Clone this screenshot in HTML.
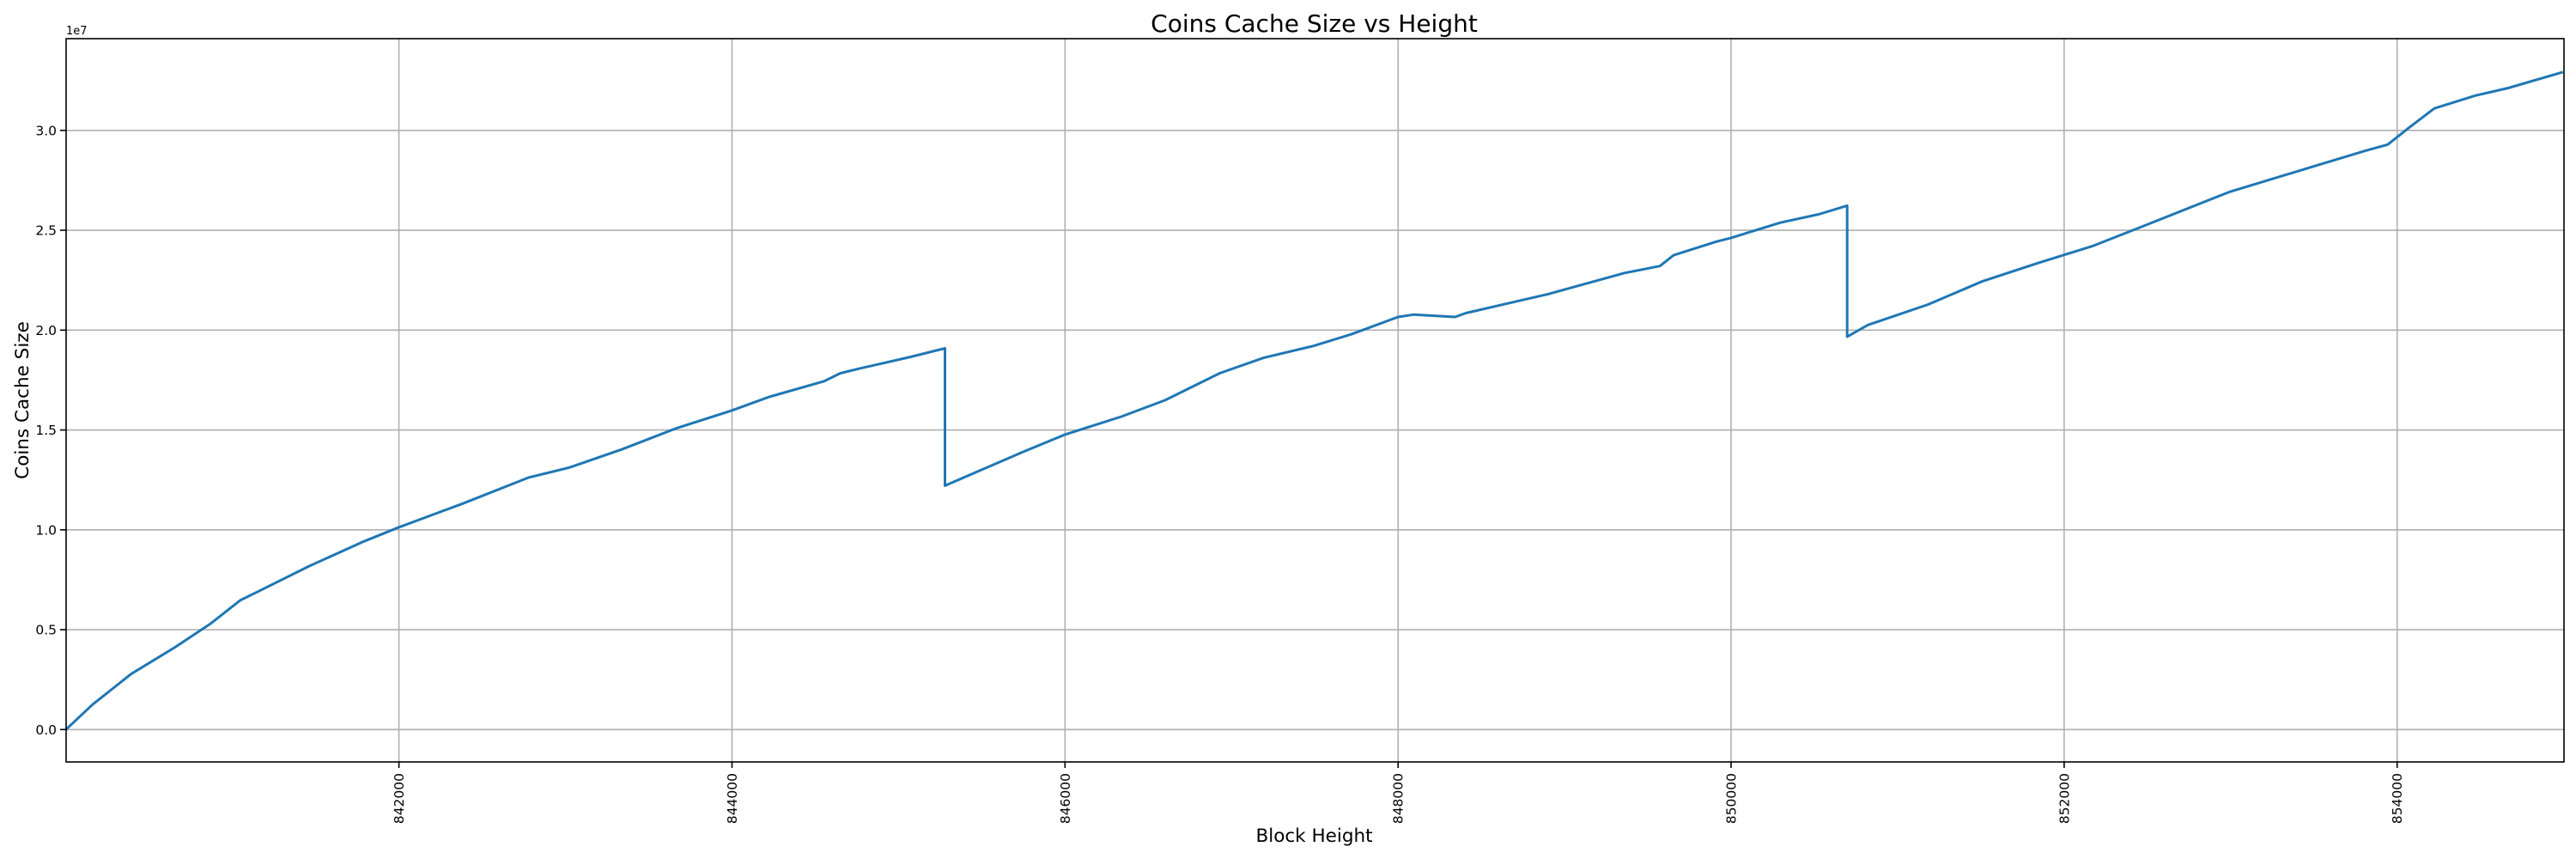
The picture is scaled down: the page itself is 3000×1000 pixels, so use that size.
<!DOCTYPE html>
<html><head><meta charset="utf-8"><style>html,body{margin:0;padding:0;background:#fff}svg{display:block}text{font-family:"DejaVu Sans","Liberation Sans",sans-serif;fill:#000}</style></head>
<body>
<svg width="3000" height="1000" viewBox="0 0 3000 1000" xmlns="http://www.w3.org/2000/svg">
<rect width="3000" height="1000" fill="#fff"/>
<g stroke="#b0b0b0" stroke-width="1.6">
<line x1="464.6" y1="45" x2="464.6" y2="887"/>
<line x1="852.5" y1="45" x2="852.5" y2="887"/>
<line x1="1240.3" y1="45" x2="1240.3" y2="887"/>
<line x1="1628.2" y1="45" x2="1628.2" y2="887"/>
<line x1="2016" y1="45" x2="2016" y2="887"/>
<line x1="2403.9" y1="45" x2="2403.9" y2="887"/>
<line x1="2791.7" y1="45" x2="2791.7" y2="887"/>
<line x1="77" y1="849.3" x2="2986" y2="849.3"/>
<line x1="77" y1="733.05" x2="2986" y2="733.05"/>
<line x1="77" y1="616.8" x2="2986" y2="616.8"/>
<line x1="77" y1="500.55" x2="2986" y2="500.55"/>
<line x1="77" y1="384.3" x2="2986" y2="384.3"/>
<line x1="77" y1="268.05" x2="2986" y2="268.05"/>
<line x1="77" y1="151.8" x2="2986" y2="151.8"/>
</g>
<polyline fill="none" stroke="#1f77b4" stroke-width="3" stroke-linejoin="round" points="76.8,849.3 107.8,820.2 152.6,784.7 203.8,753.5 245.1,726.1 280.2,698.6 302.5,687.7 359.9,659.1 423.7,630.3 464.6,613.8 538.7,586.3 615.1,556.1 663.0,544.3 723.7,523.3 787.3,498.7 852.5,477.8 895.9,462.0 959.7,443.8 978.7,434.5 1000.3,429.2 1060.4,415.5 1100.5,405.5 1100.5,565.4 1127.7,553.6 1191.3,526.1 1240.3,505.9 1305.9,485.0 1356.9,465.9 1420.5,434.5 1471.5,416.6 1528.9,402.9 1573.5,389.2 1628.2,369.0 1646.6,366.2 1694.5,369.0 1707.1,364.5 1802.7,342.4 1891.9,317.8 1933.2,309.7 1949.1,297.1 1998.8,281.3 2016.0,276.9 2073.4,259.2 2118.0,249.5 2151.2,239.4 2151.2,392.0 2175.4,378.3 2245.4,354.5 2309.2,327.3 2372.8,306.4 2436.6,286.6 2500.4,261.5 2595.9,223.6 2691.5,194.6 2755.3,175.3 2780.7,168.3 2806.3,148.1 2835.0,126.2 2882.7,111.3 2920.9,102.5 2984.7,83.9"/>
<rect x="77" y="45" width="2909" height="842" fill="none" stroke="#000" stroke-width="1.6"/>
<g stroke="#000" stroke-width="1.6">
<line x1="464.6" y1="887" x2="464.6" y2="894"/>
<line x1="852.5" y1="887" x2="852.5" y2="894"/>
<line x1="1240.3" y1="887" x2="1240.3" y2="894"/>
<line x1="1628.2" y1="887" x2="1628.2" y2="894"/>
<line x1="2016" y1="887" x2="2016" y2="894"/>
<line x1="2403.9" y1="887" x2="2403.9" y2="894"/>
<line x1="2791.7" y1="887" x2="2791.7" y2="894"/>
<line x1="70" y1="849.3" x2="77" y2="849.3"/>
<line x1="70" y1="733.05" x2="77" y2="733.05"/>
<line x1="70" y1="616.8" x2="77" y2="616.8"/>
<line x1="70" y1="500.55" x2="77" y2="500.55"/>
<line x1="70" y1="384.3" x2="77" y2="384.3"/>
<line x1="70" y1="268.05" x2="77" y2="268.05"/>
<line x1="70" y1="151.8" x2="77" y2="151.8"/>
</g>
<g font-size="15.5" text-anchor="end">
<text x="66" y="855">0.0</text>
<text x="66" y="738.7">0.5</text>
<text x="66" y="622.5">1.0</text>
<text x="66" y="506.2">1.5</text>
<text x="66" y="390">2.0</text>
<text x="66" y="273.7">2.5</text>
<text x="66" y="157.5">3.0</text>
</g>
<g font-size="15.5" text-anchor="end">
<text transform="translate(470.1,900) rotate(-90)">842000</text>
<text transform="translate(858,900) rotate(-90)">844000</text>
<text transform="translate(1245.8,900) rotate(-90)">846000</text>
<text transform="translate(1633.7,900) rotate(-90)">848000</text>
<text transform="translate(2021.5,900) rotate(-90)">850000</text>
<text transform="translate(2409.4,900) rotate(-90)">852000</text>
<text transform="translate(2797.2,900) rotate(-90)">854000</text>
</g>
<text x="77" y="40" font-size="13">1e7</text>
<text x="1530.5" y="37" font-size="28" text-anchor="middle">Coins Cache Size vs Height</text>
<text x="1530.5" y="980" font-size="21.5" text-anchor="middle">Block Height</text>
<text transform="translate(33,466) rotate(-90)" font-size="21.5" text-anchor="middle">Coins Cache Size</text>
</svg>
</body></html>
